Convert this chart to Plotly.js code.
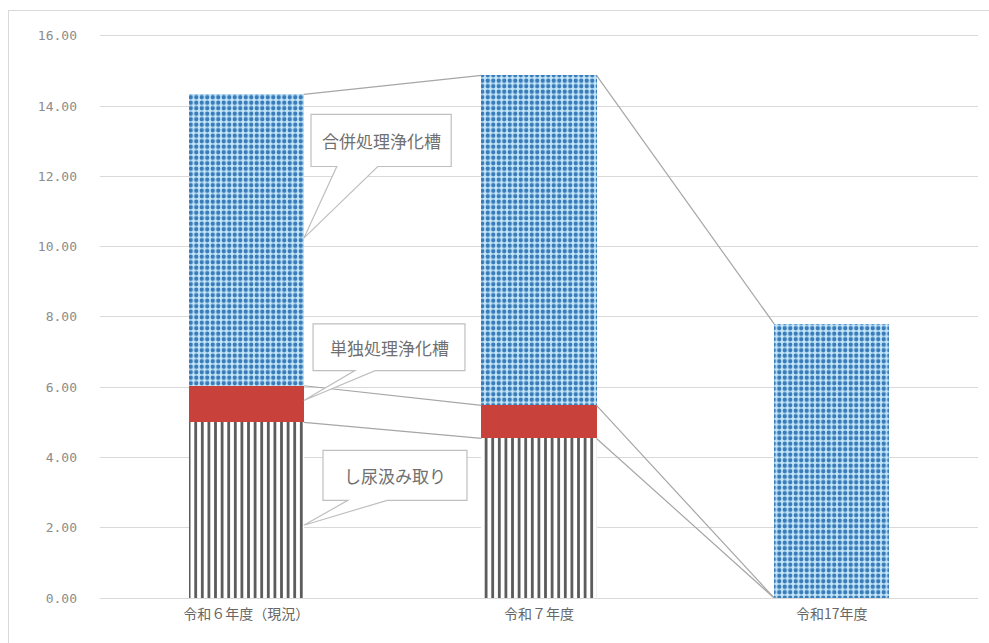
<!DOCTYPE html>
<html>
<head>
<meta charset="utf-8">
<script src="https://cdn.plot.ly/plotly-3.0.1.min.js"></script>
<style>
html,body{margin:0;padding:0;background:#fff;}
#chart{position:absolute;left:8px;top:10px;width:980px;height:632px;border:1px solid #d9d9d9;border-right:none;border-bottom:none;}
</style>
</head>
<body>
<div id="chart"></div>
<script>
// ---- data ----
const categories = ["令和６年度（現況）", "令和７年度", "令和17年度"];
const seriesNames = ["し尿汲み取り", "単独処理浄化槽", "合併処理浄化槽"];
const kumitori = [5.00, 4.54, 0.00];
const tandoku = [1.04, 0.94, 0.00];
const gappei = [8.29, 9.39, 7.80];
const yTickVals = [0, 2, 4, 6, 8, 10, 12, 14, 16];

// ---- derived ----
const xIdx = categories.map((_, i) => i);
const barWidth = 0.393;
const hw = barWidth / 2;
const cum1 = kumitori.slice();
const cum2 = kumitori.map((v, i) => v + tandoku[i]);
const cum3 = cum2.map((v, i) => v + gappei[i]);

// series lines between adjacent bars (Excel-style)
function seriesLine(cum) {
  const xs = [], ys = [];
  for (let i = 0; i < cum.length - 1; i++) {
    xs.push(xIdx[i] + hw, xIdx[i + 1] - hw, null);
    ys.push(cum[i], cum[i + 1], null);
  }
  return { xs, ys };
}
const sl = [cum1, cum2, cum3].map(seriesLine);
const lineTrace = {
  type: "scatter", mode: "lines",
  x: [].concat(...sl.map(s => s.xs)),
  y: [].concat(...sl.map(s => s.ys)),
  line: { color: "#a6a6a6", width: 1.2 },
  hoverinfo: "skip", showlegend: false, connectgaps: false
};

const traces = [
  lineTrace,
  {
    type: "bar", name: seriesNames[0], x: xIdx, y: kumitori, width: barWidth,
    marker: { color: "#ffffff", line: { width: 0 },
      pattern: { shape: "|", fgcolor: "#5a5a5a", bgcolor: "#ffffff", size: 6.6, solidity: 0.42, fillmode: "replace" } }
  },
  {
    type: "bar", name: seriesNames[1], x: xIdx, y: tandoku, width: barWidth,
    marker: { color: "#c8413b", line: { width: 0 } }
  },
  {
    type: "bar", name: seriesNames[2], x: xIdx, y: gappei, width: barWidth,
    marker: { color: "#c2e5f8", line: { width: 0 },
      pattern: { shape: ".", fgcolor: "#3a7cba", bgcolor: "#c4e6f8", size: 5.5, solidity: 0.5, fillmode: "replace" } }
  }
];

// ---- callouts (box + wedge), in data coords ----
function calloutPath(l, r, t, b, b1, b2, tx, ty) {
  return `M ${l},${t} L ${r},${t} L ${r},${b} L ${b2},${b} L ${tx},${ty} L ${b1},${b} L ${l},${b} Z`;
}
const callouts = [
  { text: seriesNames[2], l: 0.221, r: 0.700, t: 13.76, b: 12.28, b1: 0.309, b2: 0.449, ty: 10.24 },
  { text: seriesNames[1], l: 0.228, r: 0.747, t: 7.80, b: 6.47, b1: 0.371, b2: 0.440, ty: 5.62 },
  { text: seriesNames[0], l: 0.262, r: 0.754, t: 4.20, b: 2.78, b1: 0.347, b2: 0.481, ty: 2.07 }
];
const shapes = callouts.map(c => ({
  type: "path", xref: "x", yref: "y", layer: "above",
  path: calloutPath(c.l, c.r, c.t, c.b, c.b1, c.b2, hw, c.ty),
  fillcolor: "#ffffff", line: { color: "#bfbfbf", width: 1.2 }
}));
const annotations = callouts.map(c => ({
  xref: "x", yref: "y", x: (c.l + c.r) / 2, y: (c.t + c.b) / 2,
  text: c.text, showarrow: false,
  font: { family: "Noto Sans CJK JP, sans-serif", size: 17, color: "#707070" }
}));

const layout = {
  width: 980, height: 632,
  margin: { l: 91, r: 11, t: 23, b: 45 },
  paper_bgcolor: "#ffffff", plot_bgcolor: "#ffffff",
  barmode: "stack",
  showlegend: false,
  font: { family: "Noto Sans CJK JP, sans-serif" },
  xaxis: {
    range: [-0.5, 2.5], tickvals: xIdx, ticktext: categories,
    showgrid: false, zeroline: false, showline: false, ticks: "",
    tickfont: { size: 14, color: "#666666" }, ticklabelstandoff: 6
  },
  yaxis: {
    range: [0, 16.05], tickvals: yTickVals, tickformat: ".2f",
    showgrid: true, gridcolor: "#d9d9d9", gridwidth: 1,
    zeroline: true, zerolinecolor: "#d9d9d9", zerolinewidth: 1,
    showline: false, ticks: "",
    tickfont: { family: "DejaVu Sans Mono, monospace", size: 13, color: "#8c8c8c" },
    ticklabelstandoff: 22
  },
  shapes: shapes,
  annotations: annotations
};

Plotly.newPlot("chart", traces, layout, { displayModeBar: false, staticPlot: true });
</script>
</body>
</html>
